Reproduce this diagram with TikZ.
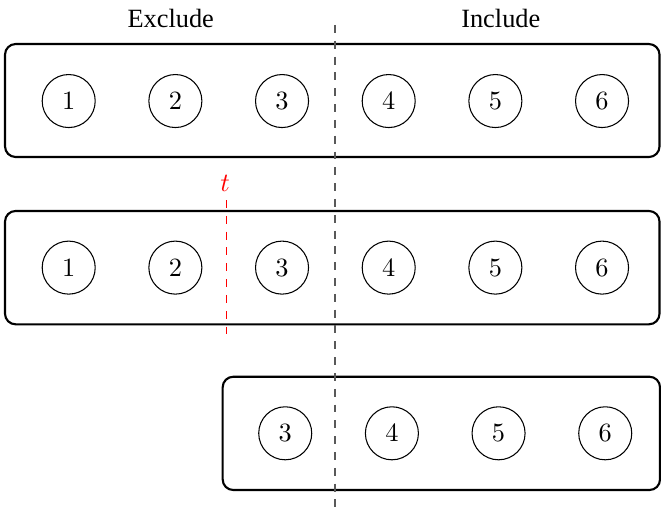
\documentclass[tikz,border=0pt]{standalone}
\usepackage{amsmath, amssymb}
\usepackage{fontspec}
\setmainfont{Liberation Serif}
\usepackage{tikz}

\begin{document}
\begin{tikzpicture}[
	ball/.style={draw, circle, thin, minimum size=0.707cm, inner sep=0pt},
	group/.style={draw, thick, rounded corners=4pt},
	split/.style={dashed, semithick, black!65},
	cut/.style={dashed, semithick, red}
]
	\useasboundingbox (0,0) rectangle (8.813,-6.8);
	\def\dx{1.4222}
	\def\ya{-1.347}
	\def\yb{-3.568}
	\def\yc{-5.777}

	% labels on top
	\node[anchor=base] (excl) at (2.276,-0.36) {Exclude};
	\node[anchor=base] (incl) at (6.677,-0.36) {Include};

	% first row
	\draw[group] (0.067,-0.587) rectangle (8.793,-2.093);
	\foreach \i in {1,...,6}
		\node[ball] (a\i) at ({0.916+\dx*(\i-1)},\ya) {$\i$};

	% second row, with the threshold t
	\draw[group] (0.067,-2.813) rectangle (8.793,-4.324);
	\foreach \i in {1,...,6}
		\node[ball] (b\i) at ({0.916+\dx*(\i-1)},\yb) {$\i$};
	\coordinate (ttop) at (3.022,-2.667);
	\coordinate (tbot) at (3.022,-4.453);
	\draw[cut] (ttop) -- (tbot);
	\node[red] (tlab) at (3.0,-2.44) {$t$};

	% third row
	\draw[group] (2.969,-5.023) rectangle (8.80,-6.533);
	\foreach \i in {3,...,6}
		\node[ball] (c\i) at ({3.803+\dx*(\i-3)},\yc) {$\i$};

	% dividing line
	\coordinate (stop) at (4.467,-0.333);
	\coordinate (sbot) at (4.467,-6.8);
	\draw[split] (stop) -- (sbot);
\end{tikzpicture}
\end{document}
